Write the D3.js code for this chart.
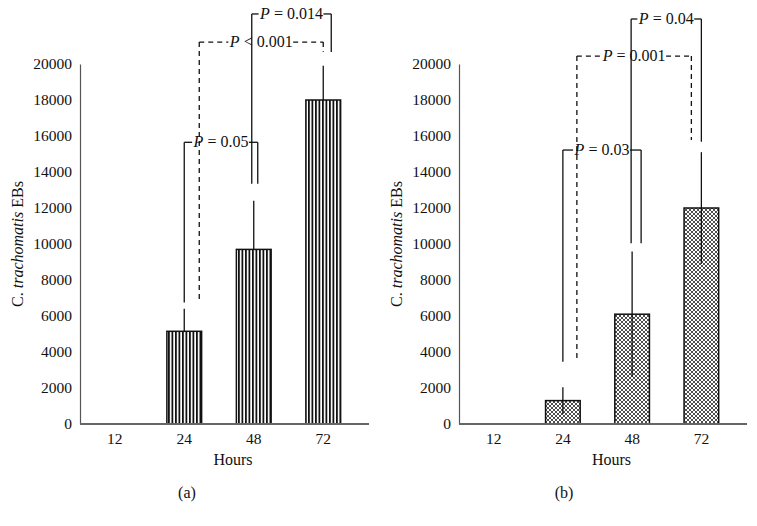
<!DOCTYPE html>
<html lang="en">
<head>
  <meta charset="UTF-8">
  <title>C. trachomatis EBs</title>
  <script src="https://cdn.jsdelivr.net/npm/d3@7"></script>
  <style>
    body { margin: 0; background: #fff; }
    svg, svg text { font-family: "Liberation Serif", "DejaVu Serif", serif; }
    .tick text { font-family: "Liberation Serif", serif; font-size: 15.5px; fill: #111; }
    .lbl { font-size: 16px; fill: #111; }
  </style>
</head>
<body>
  <div class="chart"></div>

  <script>
    // values
    const hours = ["12", "24", "48", "72"];
    const yTicks = [0, 2000, 4000, 6000, 8000, 10000, 12000, 14000, 16000, 18000, 20000];

    // panel (a)
    const ebsA = [0, 5150, 9700, 18000];
    const errA = [0, 1250, 2700, 1900];
    const pairsA = [["24", "48"], ["24", "72"], ["48", "72"]];
    const pTextA = [["=", "0.05"], ["<", "0.001"], ["=", "0.014"]];
    const pLevelA = [15650, 21220, 22780];
    const legEndsA = [[6750, 13350], [6850, 20680], [13350, 20670]];

    // panel (b)
    const ebsB = [0, 1300, 6100, 12000];
    const errB = [0, 740, 3480, 3100];
    const pairsB = [["24", "48"], ["24", "72"], ["48", "72"]];
    const pTextB = [["=", "0.03"], ["=", "0.001"], ["=", "0.04"]];
    const pLevelB = [15220, 20440, 22500];
    const legEndsB = [[3460, 10040], [3460, 15780], [10040, 15680]];

    const W = 757, H = 526;
    const svg = d3.select(".chart").append("svg")
      .attr("width", W)
      .attr("height", H);

    const defs = svg.append("defs");
    const stripes = defs.append("pattern")
      .attr("id", "stripes")
      .attr("patternUnits", "userSpaceOnUse")
      .attr("width", 3.5)
      .attr("height", 10);
    stripes.append("rect").attr("width", 3.5).attr("height", 10).attr("fill", "#fff");
    stripes.append("rect").attr("width", 1.8).attr("height", 10).attr("fill", "#111");

    const hatch = defs.append("pattern")
      .attr("id", "hatch")
      .attr("patternUnits", "userSpaceOnUse")
      .attr("width", 4)
      .attr("height", 4);
    hatch.append("rect").attr("width", 4).attr("height", 4).attr("fill", "#fff");
    hatch.append("path")
      .attr("d", "M0,0L4,4M4,0L0,4M-1,1L1,-1M3,5L5,3M-1,3L1,5M3,-1L5,1")
      .attr("stroke", "#222")
      .attr("stroke-width", 0.8);

    function drawPanel(opt) {
      const g = svg.append("g");
      const x = d3.scaleBand()
        .domain(hours)
        .range([opt.left, opt.right])
        .paddingInner(0.5)
        .paddingOuter(0.25);
      const y = d3.scaleLinear().domain([0, 20000]).range([424, 64]);
      const cx = h => x(h) + x.bandwidth() / 2;

      // bars
      g.selectAll("rect.bar")
        .data(hours.filter((h, i) => opt.values[i] > 0))
        .join("rect")
        .attr("class", "bar")
        .attr("x", h => x(h))
        .attr("width", x.bandwidth())
        .attr("y", h => y(opt.values[hours.indexOf(h)]))
        .attr("height", h => y(0) - y(opt.values[hours.indexOf(h)]))
        .attr("fill", opt.fill)
        .attr("stroke", "#111")
        .attr("stroke-width", 1.5);

      // error bars (striped bars hide the lower half)
      g.selectAll("line.err")
        .data(hours.filter((h, i) => opt.errors[i] > 0))
        .join("line")
        .attr("class", "err")
        .attr("x1", h => cx(h))
        .attr("x2", h => cx(h))
        .attr("y1", h => { const i = hours.indexOf(h); return y(opt.values[i] + opt.errors[i]); })
        .attr("y2", h => {
          const i = hours.indexOf(h);
          return y(opt.upperOnly ? opt.values[i] : opt.values[i] - opt.errors[i]);
        })
        .attr("stroke", "#111")
        .attr("stroke-width", 1.3);

      // axes
      const yAxis = g.append("g")
        .attr("transform", `translate(${opt.left},0)`)
        .call(d3.axisLeft(y).tickValues(yTicks).tickSize(0).tickPadding(8).tickFormat(d3.format("d")))
        .attr("font-family", null)
        .attr("font-size", null);
      yAxis.select(".domain").attr("stroke", "#555").attr("stroke-width", 1.2);

      const xAxis = g.append("g")
        .attr("transform", `translate(0,${y(0)})`)
        .call(d3.axisBottom(x).tickSize(0).tickPadding(8.5))
        .attr("font-family", null)
        .attr("font-size", null);
      xAxis.select(".domain").remove();
      g.append("line")
        .attr("x1", opt.left).attr("x2", opt.right + 11)
        .attr("y1", y(0)).attr("y2", y(0))
        .attr("stroke", "#666")
        .attr("stroke-width", 2);
      g.selectAll(".tick text").attr("fill", "#111");

      // significance brackets
      opt.pairs.forEach((p, i) => {
        const xl = cx(p[0]) + opt.offsets[i][0];
        const xr = cx(p[1]) + opt.offsets[i][1];
        const yl = y(opt.levels[i]);
        const dash = opt.dashed[i] ? "5,4" : null;
        const t = g.append("text")
          .attr("class", "lbl")
          .attr("x", (xl + xr) / 2)
          .attr("y", yl + 5)
          .attr("text-anchor", "middle");
        t.append("tspan").attr("font-style", "italic").text("P");
        t.append("tspan").text(` ${opt.ptext[i][0]} ${opt.ptext[i][1]}`);
        const bb = t.node().getBBox();
        const segs = [
          [xl, yl, xl, y(opt.legEnds[i][0])],
          [xr, yl, xr, y(opt.legEnds[i][1])],
          [xl, yl, bb.x - 0.5, yl],
          [bb.x + bb.width + 0.5, yl, xr, yl]
        ];
        segs.forEach(s => {
          g.append("line")
            .attr("x1", s[0]).attr("y1", s[1])
            .attr("x2", s[2]).attr("y2", s[3])
            .attr("stroke", "#111")
            .attr("stroke-width", 1.3)
            .attr("stroke-dasharray", dash);
        });
      });

      // axis titles
      const yl = g.append("text")
        .attr("class", "lbl")
        .attr("transform", `translate(${opt.left - 57},${(y(0) + y(20000)) / 2}) rotate(-90)`)
        .attr("text-anchor", "middle");
      yl.append("tspan").text("C. ");
      yl.append("tspan").attr("font-style", "italic").text("trachomatis");
      yl.append("tspan").text(" EBs");

      g.append("text")
        .attr("class", "lbl")
        .attr("x", (opt.left + opt.right) / 2 + 14)
        .attr("y", 465)
        .attr("text-anchor", "middle")
        .text("Hours");

      g.append("text")
        .attr("class", "lbl")
        .attr("x", opt.caption)
        .attr("y", 498)
        .attr("text-anchor", "middle")
        .text(opt.tag);
    }

    drawPanel({
      left: 80, right: 358, caption: 187, tag: "(a)", upperOnly: true,
      values: ebsA, errors: errA, fill: "url(#stripes)",
      pairs: pairsA, ptext: pTextA, levels: pLevelA, legEnds: legEndsA,
      offsets: [[0, 4], [15, 0], [-2, 8]], dashed: [false, true, false]
    });

    drawPanel({
      left: 459, right: 736, caption: 564, tag: "(b)", upperOnly: false,
      values: ebsB, errors: errB, fill: "url(#hatch)",
      pairs: pairsB, ptext: pTextB, levels: pLevelB, legEnds: legEndsB,
      offsets: [[0, 9], [14, -10], [-1, 0]], dashed: [false, true, false]
    });
  </script>
</body>
</html>
